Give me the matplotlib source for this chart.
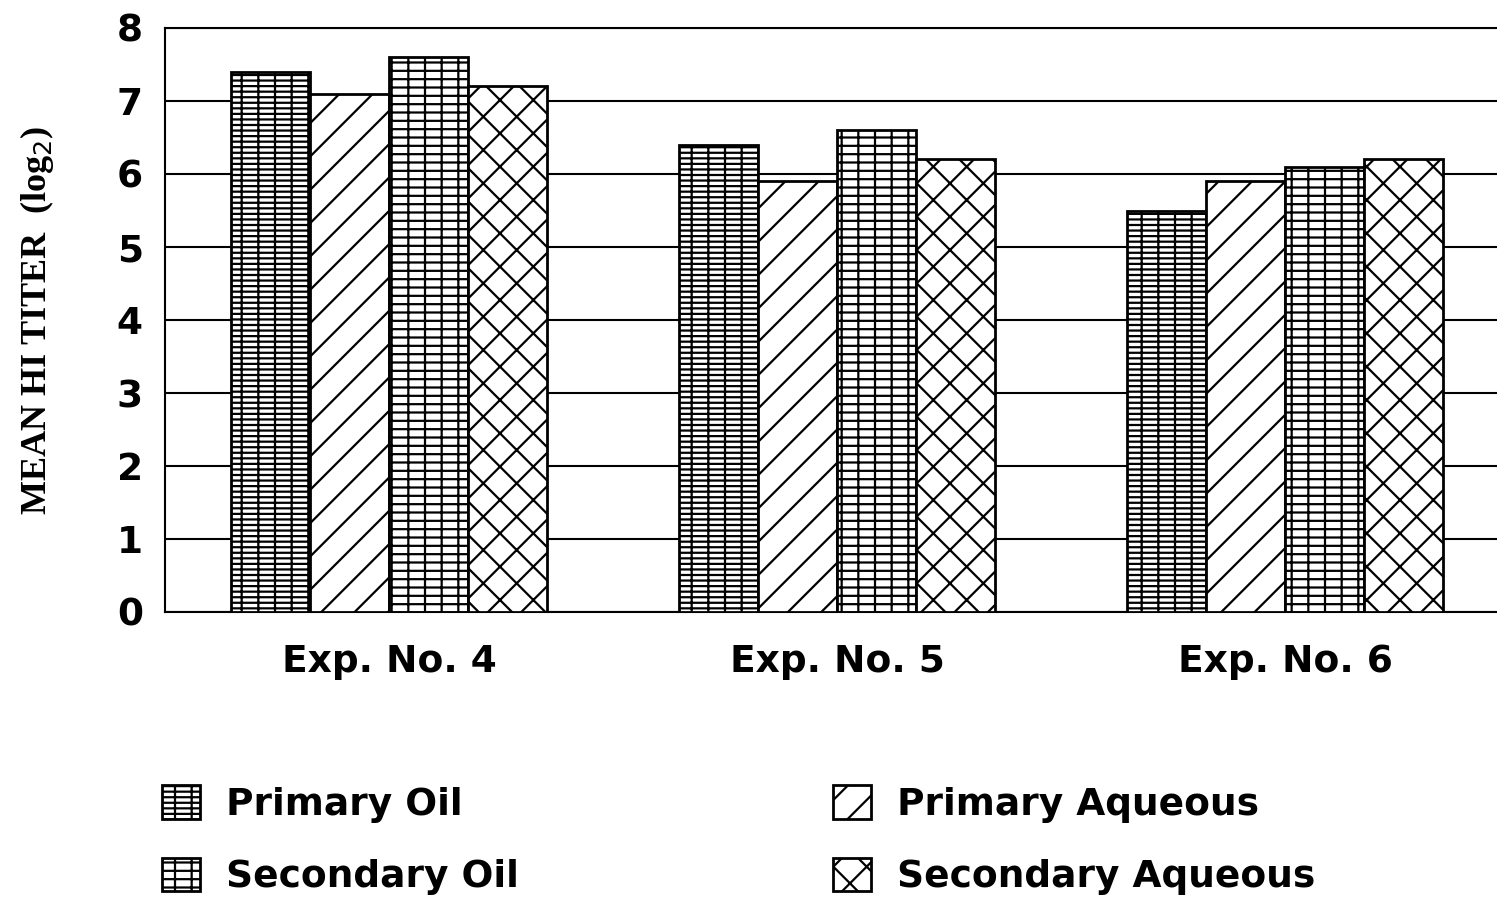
import matplotlib.pyplot as plt
import numpy as np

# data
experiments = ["Exp. No. 4", "Exp. No. 5", "Exp. No. 6"]
primary_oil = [7.4, 6.4, 5.5]
primary_aqueous = [7.1, 5.9, 5.9]
secondary_oil = [7.6, 6.6, 6.1]
secondary_aqueous = [7.2, 6.2, 6.2]
yticks = [0, 1, 2, 3, 4, 5, 6, 7, 8]

plt.rcParams['hatch.linewidth'] = 1.6
plt.rcParams['hatch.color'] = 'black'
plt.rcParams['font.family'] = 'DejaVu Sans'

fig = plt.figure(figsize=(14.97, 8.98), dpi=100)
ax = fig.add_axes([165 / 1497, 1 - 612 / 898, 1344 / 1497, 584 / 898])

x = np.arange(len(experiments))
w = 0.176
series = [
    ("Primary Oil", primary_oil, '---|'),
    ("Primary Aqueous", primary_aqueous, '/'),
    ("Secondary Oil", secondary_oil, '--|'),
    ("Secondary Aqueous", secondary_aqueous, 'x'),
]
bars = []
for i, (name, vals, hatch) in enumerate(series):
    b = ax.bar(x + (i - 1.5) * w, vals, w, color='white', edgecolor='black',
               linewidth=2, hatch=hatch, label=name, zorder=3)
    bars.append(b)

ax.set_xlim(-0.5, 2.5)
ax.set_ylim(0, 8)
ax.set_yticks(yticks)
ax.set_xticks(x)
ax.set_xticklabels(experiments, fontsize=27, fontweight='bold')
for lab in ax.get_yticklabels():
    lab.set_fontsize(27)
    lab.set_fontweight('bold')
ax.tick_params(length=0)
ax.tick_params(axis='x', pad=23)
ax.tick_params(axis='y', pad=16)
ax.yaxis.grid(True, color='black', linewidth=1.5, zorder=0)
ax.set_axisbelow(True)
for s in ax.spines.values():
    s.set_linewidth(1.5)

fig.text(37 / 1497, 1 - 320 / 898, "MEAN HI TITER  (log$_2$)", rotation=90,
         va='center', ha='center', fontsize=26, family='Liberation Serif',
         fontweight='bold')

leg_kw = dict(loc='upper left', frameon=False, handlelength=1.0,
              handleheight=1.0, handletextpad=0.7, labelspacing=0.93,
              borderpad=0, borderaxespad=0,
              prop={'size': 27, 'weight': 'bold'})
fig.legend([bars[0], bars[2]], ["Primary Oil", "Secondary Oil"],
           bbox_to_anchor=(162 / 1497, 1 - 785 / 898), **leg_kw)
fig.legend([bars[1], bars[3]], ["Primary Aqueous", "Secondary Aqueous"],
           bbox_to_anchor=(833 / 1497, 1 - 785 / 898), **leg_kw)

fig.savefig("out.png", dpi=100)
